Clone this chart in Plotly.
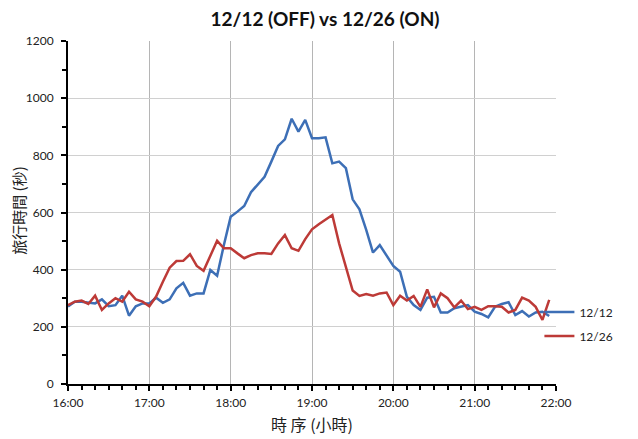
import pandas as pd
import plotly.graph_objects as go

# 5-minute samples from 16:00 to 21:55
times = pd.date_range("2024-12-12 16:00", periods=72, freq="5min")

series_1212 = [271, 288, 288, 284, 282, 296, 272, 276, 309, 239, 272, 282,
               282, 302, 284, 296, 335, 354, 309, 317, 317, 399, 379, 486,
               585, 603, 623, 671, 700, 725, 778, 833, 856, 928, 883, 924,
               860, 860, 863, 772, 778, 755, 646, 611, 539, 460, 486, 451,
               413, 393, 305, 276, 259, 302, 305, 250, 250, 265, 270, 276,
               253, 245, 233, 270, 280, 286, 241, 255, 236, 250, 253, 238]

series_1226 = [276, 288, 292, 280, 309, 259, 282, 300, 288, 323, 296, 288,
               272, 306, 358, 407, 430, 431, 454, 413, 396, 451, 501, 475,
               475, 457, 440, 451, 457, 457, 455, 492, 521, 475, 466, 507,
               541, 559, 574, 591, 492, 411, 327, 308, 315, 309, 317, 320,
               276, 309, 292, 308, 270, 331, 268, 317, 300, 268, 292, 262,
               270, 259, 272, 272, 270, 250, 259, 302, 292, 270, 224, 294]

series_names = ["12/12", "12/26"]
series_colors = ["#3D6FB6", "#BD3A37"]
title_text = "<b>12/12 (OFF) vs 12/26 (ON)</b>"
x_title = "時 序 (小時)"
y_title = "旅行時間 (秒)"
y_tickvals = [0, 200, 400, 600, 800, 1000, 1200]

fig = go.Figure()
for name, vals, col in zip(series_names, [series_1212, series_1226], series_colors):
    fig.add_trace(go.Scatter(x=times, y=vals, mode="lines", name=name,
                             legendgroup=name,
                             line=dict(color=col, width=2.5)))

latin = "Lato, 'Noto Sans CJK TC', sans-serif"
cjk = "'Noto Sans CJK TC', sans-serif"

# page body has an 8px margin, so the figure is sized and offset to compensate
W, H = 630, 431
L, R, T, B = 60, 82, 33, 55
plot_w = W - L - R
fig.update_layout(
    width=W, height=H,
    margin=dict(l=L, r=R, t=T, b=B),
    paper_bgcolor="white", plot_bgcolor="white",
    title=dict(text=title_text, x=317 / W, xanchor="center", y=1 - 11 / H,
               yanchor="middle", font=dict(family=latin, size=19, color="#111111")),
    font=dict(family=latin, size=12, color="#222222"),
    legend=dict(x=0.966, xanchor="left", y=0.175, yanchor="middle",
                font=dict(family=latin, size=12, color="#222222"),
                bgcolor="rgba(0,0,0,0)", tracegroupgap=5),
    showlegend=True,
    annotations=[dict(text=y_title, textangle=-90, xref="paper", yref="paper",
                      x=(11 - L) / plot_w, y=0.505, xanchor="center", yanchor="middle",
                      showarrow=False,
                      font=dict(family=cjk, size=15, color="#222222"))],
)

fig.update_xaxes(
    range=["2024-12-12 16:00", "2024-12-12 22:00"],
    dtick=3600000, tick0="2024-12-12 16:00", tickformat="%H:%M",
    showgrid=True, gridcolor="#B5B5B5", gridwidth=1,
    showline=True, linecolor="black", linewidth=2,
    ticks="outside", ticklen=5, tickcolor="black", tickwidth=2,
    ticklabelstandoff=2,
    minor=dict(dtick=600000, ticks="outside", ticklen=4, tickcolor="black",
               tickwidth=2, showgrid=False),
    tickfont=dict(family=latin, size=12, color="#222222"),
    title=dict(text=x_title, font=dict(family=cjk, size=16, color="#222222"),
               standoff=10),
    zeroline=False, automargin=False,
)

fig.update_yaxes(
    range=[0, 1200], tickvals=y_tickvals,
    showgrid=True, gridcolor="#D0D0D0", gridwidth=1,
    showline=True, linecolor="black", linewidth=2,
    ticks="outside", ticklen=5, tickcolor="black", tickwidth=2,
    ticklabelstandoff=5,
    minor=dict(dtick=100, ticks="outside", ticklen=4, tickcolor="black",
               tickwidth=2, showgrid=False),
    tickfont=dict(family=latin, size=12, color="#222222"),
    zeroline=False, automargin=False,
)

fig.write_html("out.html")
